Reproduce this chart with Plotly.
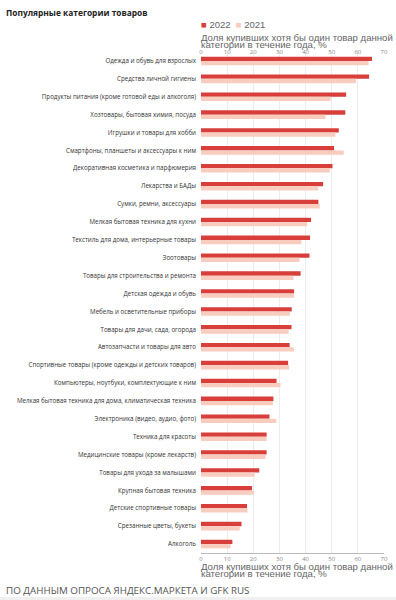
import plotly.graph_objects as go

categories = [
    "Одежда и обувь для взрослых",
    "Средства личной гигиены",
    "Продукты питания (кроме готовой еды и алкоголя)",
    "Хозтовары, бытовая химия, посуда",
    "Игрушки и товары для хобби",
    "Смартфоны, планшеты и аксессуары к ним",
    "Декоративная косметика и парфюмерия",
    "Лекарства и БАДы",
    "Сумки, ремни, аксессуары",
    "Мелкая бытовая техника для кухни",
    "Текстиль для дома, интерьерные товары",
    "Зоотовары",
    "Товары для строительства и ремонта",
    "Детская одежда и обувь",
    "Мебель и осветительные приборы",
    "Товары для дачи, сада, огорода",
    "Автозапчасти и товары для авто",
    "Спортивные товары (кроме одежды и детских товаров)",
    "Компьютеры, ноутбуки, комплектующие к ним",
    "Мелкая бытовая техника для дома, климатическая техника",
    "Электроника (видео, аудио, фото)",
    "Техника для красоты",
    "Медицинские товары (кроме лекарств)",
    "Товары для ухода за малышами",
    "Крупная бытовая техника",
    "Детские спортивные товары",
    "Срезанные цветы, букеты",
    "Алкоголь",
]
values_2022 = [65.4, 64.3, 55.5, 55.2, 52.7, 50.9, 50.3, 46.7, 44.9, 42.1,
               41.7, 41.5, 38.1, 35.6, 34.7, 34.6, 33.9, 33.3, 28.9, 27.7,
               26.2, 25.1, 25.1, 22.3, 19.5, 17.6, 15.5, 12.0]
values_2021 = [64.1, 59.3, 49.6, 47.6, 51.4, 54.6, 49.3, 44.8, 45.4, 40.6,
               38.4, 37.7, 35.4, 35.6, 34.0, 33.5, 35.5, 33.7, 30.4, 27.5,
               28.8, 25.1, 24.7, 20.6, 20.2, 17.8, 14.8, 11.3]
tick_vals = [0, 10, 20, 30, 40, 50, 60, 70]

C2022 = "#d83f3b"
C2021 = "#f8cdbf"
FONT = "Open Sans"
TFONT = "Liberation Sans"

fig = go.Figure()
fig.add_trace(go.Bar(y=categories, x=values_2022, orientation="h", name="2022",
                     marker=dict(color=C2022, line=dict(width=0))))
fig.add_trace(go.Bar(y=categories, x=values_2021, orientation="h", name="2021",
                     marker=dict(color=C2021, line=dict(width=0))))
# invisible trace for top axis
fig.add_trace(go.Scatter(x=[0, 70], y=[categories[0], categories[0]], xaxis="x2",
                         mode="markers", marker=dict(opacity=0), hoverinfo="skip",
                         showlegend=False))

axis_common = dict(range=[0, 70], tickvals=tick_vals, showgrid=True,
                   gridcolor="#ececec", gridwidth=1, zeroline=False,
                   tickfont=dict(size=6, color="#888", family=FONT),
                   ticks="", fixedrange=True, automargin=False)

W_PLOT = 384 - 201
H_PLOT = 553 - 52

def px_y(p):
    return (553 - p) / H_PLOT

def px_x(p):
    return (p - 201) / W_PLOT

annotations = [
    dict(text="<b>Популярные категории товаров</b>", xref="paper", yref="paper",
         x=px_x(4), y=px_y(12), xanchor="left", yanchor="middle", showarrow=False,
         font=dict(size=8.4, color="#222", family=FONT)),
    dict(text=f"<span style='color:{C2022}'>■</span> 2022  <span style='color:{C2021}'>■</span> 2021",
         xref="paper", yref="paper", x=px_x(199), y=px_y(24), xanchor="left",
         yanchor="middle", showarrow=False, font=dict(size=9.5, color="#666", family=TFONT)),
    dict(text="Доля купивших хотя бы один товар данной", xref="paper", yref="paper",
         x=px_x(199), y=px_y(37), xanchor="left", yanchor="middle", showarrow=False,
         font=dict(size=9.6, color="#666", family=TFONT)),
    dict(text="категории в течение года, %", xref="paper", yref="paper",
         x=px_x(199), y=px_y(44.5), xanchor="left", yanchor="middle", showarrow=False,
         font=dict(size=9.6, color="#666", family=TFONT)),
    dict(text="Доля купивших хотя бы один товар данной", xref="paper", yref="paper",
         x=px_x(199), y=px_y(566), xanchor="left", yanchor="middle", showarrow=False,
         font=dict(size=9.6, color="#666", family=TFONT)),
    dict(text="категории в течение года, %", xref="paper", yref="paper",
         x=px_x(199), y=px_y(573.5), xanchor="left", yanchor="middle", showarrow=False,
         font=dict(size=9.6, color="#666", family=TFONT)),
    dict(text="ПО ДАННЫМ ОПРОСА ЯНДЕКС.МАРКЕТА И GFK RUS", xref="paper", yref="paper",
         x=px_x(4), y=px_y(590), xanchor="left", yanchor="middle", showarrow=False,
         font=dict(size=9.8, color="#555", family=FONT)),
]

shapes = [
    dict(type="rect", xref="paper", yref="paper", x0=px_x(0), x1=px_x(396),
         y0=px_y(597), y1=px_y(602), fillcolor="#f0f0f0", line=dict(width=0), layer="below"),
]

fig.update_layout(
    width=396, height=600,
    margin=dict(l=201, r=12, t=52, b=47, autoexpand=False),
    paper_bgcolor="white", plot_bgcolor="white",
    barmode="group", bargap=0.52, bargroupgap=0,
    showlegend=False,
    xaxis=dict(**axis_common, side="bottom", showline=True, linecolor="#bbb", linewidth=1,
               ticklen=0),
    xaxis2=dict(**axis_common, side="top", overlaying="x", showline=False,
                ticklabelstandoff=-4),
    yaxis=dict(categoryorder="array", categoryarray=categories,
               range=[len(categories) - 0.5, -0.5], autorange=False,
               tickfont=dict(size=6.2, color="#333", family=FONT), ticks="",
               ticklabelstandoff=4, showgrid=False, fixedrange=True, automargin=False),
    annotations=annotations,
    shapes=shapes,
    font=dict(family=FONT),
)

fig.write_html("out.html", config={"displayModeBar": False},
               post_script="document.body.style.margin='0';document.body.style.overflow='hidden';")
